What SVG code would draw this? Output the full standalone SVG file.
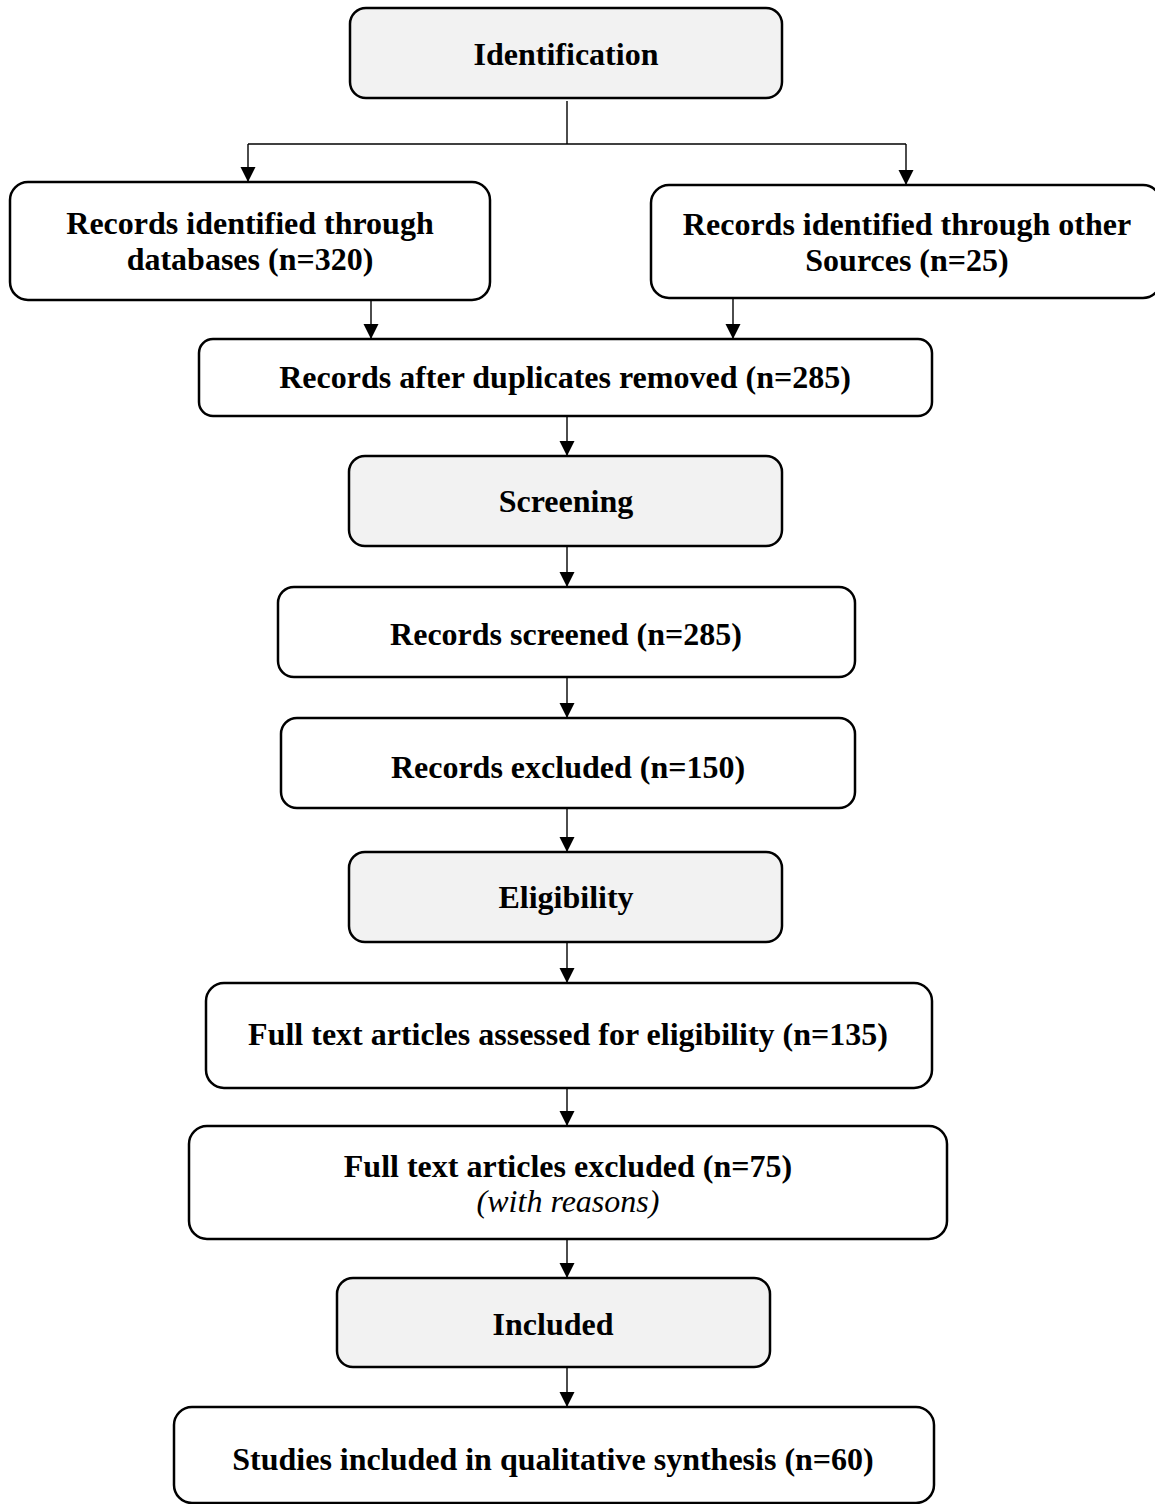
<svg xmlns="http://www.w3.org/2000/svg" width="1155" height="1504" viewBox="0 0 1155 1504">
<style>
.box{fill:#ffffff;stroke:#000;stroke-width:2.5}
.stage{fill:#f2f2f2;stroke:#000;stroke-width:2.5}
.t{font-family:"Liberation Serif","Times New Roman",serif;font-size:32px;font-weight:bold;text-anchor:middle;fill:#000}
.i{font-family:"Liberation Serif","Times New Roman",serif;font-size:32px;font-style:italic;text-anchor:middle;fill:#000}
.c{fill:none;stroke:#000;stroke-width:1.4}
</style>
<defs>
<marker id="ah" markerUnits="userSpaceOnUse" markerWidth="16" markerHeight="16" refX="14" refY="7.5" orient="auto">
<path d="M0,0 L15,7.5 L0,15 Z" fill="#000"/>
</marker>
</defs>
<rect width="1155" height="1504" fill="#fff"/>
<g id="connectors">
<path class="c" d="M567,101 V144"/>
<path class="c" d="M248,144 H906"/>
<path class="c" d="M248,144 V181" marker-end="url(#ah)"/>
<path class="c" d="M906,144 V184" marker-end="url(#ah)"/>
<path class="c" d="M371,301 V338" marker-end="url(#ah)"/>
<path class="c" d="M733,299 V338" marker-end="url(#ah)"/>
<path class="c" d="M567,417 V455" marker-end="url(#ah)"/>
<path class="c" d="M567,547 V586" marker-end="url(#ah)"/>
<path class="c" d="M567,678 V717" marker-end="url(#ah)"/>
<path class="c" d="M567,809 V851" marker-end="url(#ah)"/>
<path class="c" d="M567,943 V982" marker-end="url(#ah)"/>
<path class="c" d="M567,1089 V1125" marker-end="url(#ah)"/>
<path class="c" d="M567,1240 V1277" marker-end="url(#ah)"/>
<path class="c" d="M567,1366 V1406" marker-end="url(#ah)"/>
</g>
<g id="identification">
<rect class="stage" x="350" y="8" width="432" height="90" rx="16"/>
<text class="t" x="566" y="65">Identification</text>
</g>
<g id="records-databases">
<rect class="box" x="10" y="182" width="480" height="118" rx="18"/>
<text class="t" x="250" y="234">Records identified through</text>
<text class="t" x="250" y="270">databases (n=320)</text>
</g>
<g id="records-other">
<rect class="box" x="651" y="185" width="510" height="113" rx="18"/>
<text class="t" x="907" y="235">Records identified through other</text>
<text class="t" x="907" y="271">Sources (n=25)</text>
</g>
<g id="duplicates-removed">
<rect class="box" x="199" y="339" width="733" height="77" rx="14"/>
<text class="t" x="565" y="388">Records after duplicates removed (n=285)</text>
</g>
<g id="screening">
<rect class="stage" x="349" y="456" width="433" height="90" rx="16"/>
<text class="t" x="566" y="512">Screening</text>
</g>
<g id="records-screened">
<rect class="box" x="278" y="587" width="577" height="90" rx="16"/>
<text class="t" x="566" y="645">Records screened (n=285)</text>
</g>
<g id="records-excluded">
<rect class="box" x="281" y="718" width="574" height="90" rx="16"/>
<text class="t" x="568" y="778">Records excluded (n=150)</text>
</g>
<g id="eligibility">
<rect class="stage" x="349" y="852" width="433" height="90" rx="16"/>
<text class="t" x="566" y="908">Eligibility</text>
</g>
<g id="fulltext-assessed">
<rect class="box" x="206" y="983" width="726" height="105" rx="18"/>
<text class="t" x="568" y="1045">Full text articles assessed for eligibility (n=135)</text>
</g>
<g id="fulltext-excluded">
<rect class="box" x="189" y="1126" width="758" height="113" rx="18"/>
<text class="t" x="568" y="1177">Full text articles excluded (n=75)</text>
<text class="i" x="568" y="1212">(with reasons)</text>
</g>
<g id="included">
<rect class="stage" x="337" y="1278" width="433" height="89" rx="16"/>
<text class="t" x="553" y="1335">Included</text>
</g>
<g id="studies-included">
<rect class="box" x="174" y="1407" width="760" height="96" rx="18"/>
<text class="t" x="553" y="1470">Studies included in qualitative synthesis (n=60)</text>
</g>
</svg>
